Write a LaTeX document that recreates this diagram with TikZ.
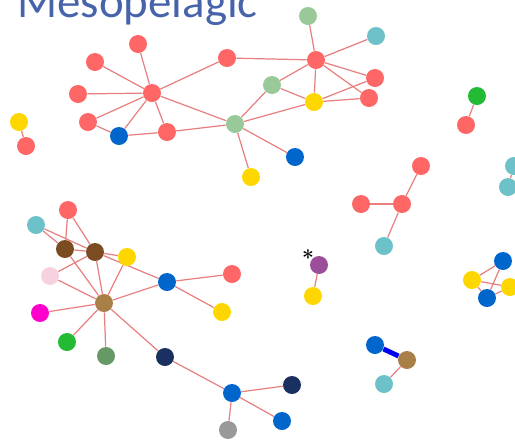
\documentclass[tikz,border=0pt]{standalone}
\usepackage{fontspec}
\newfontfamily\titlefont{Carlito}
\usetikzlibrary{backgrounds}

\definecolor{ntitle}{HTML}{4763AA}
\definecolor{nlink}{HTML}{E88080}
\definecolor{nred}{HTML}{FF6666}
\definecolor{nblue}{HTML}{0066CC}
\definecolor{nlgreen}{HTML}{99C999}
\definecolor{nyellow}{HTML}{FFD700}
\definecolor{nteal}{HTML}{6CC2C8}
\definecolor{nbgreen}{HTML}{22BB33}
\definecolor{npurple}{HTML}{9B4F9B}
\definecolor{nbrown}{HTML}{A97F48}
\definecolor{ndbrown}{HTML}{7B4B22}
\definecolor{npink}{HTML}{F6D2E0}
\definecolor{nmagenta}{HTML}{FF00CC}
\definecolor{ndgreen}{HTML}{669966}
\definecolor{nnavy}{HTML}{1A3060}
\definecolor{ngray}{HTML}{999999}
\definecolor{nthick}{HTML}{0000EE}

\begin{document}
\begin{tikzpicture}[
    x=0.02cm, y=-0.02cm,
    vtx/.style={circle, minimum size=0.36cm, inner sep=0pt},
    link/.style={draw=nlink, line width=0.7pt},
]
\useasboundingbox (0,0) rectangle (515,441);
\clip (0,0) rectangle (515,441);

% Title
\node[font=\titlefont\fontsize{26.7}{30}\selectfont, text=ntitle, anchor=base west, inner sep=0pt]
    (title) at (17,17) {Mesopelagic};

% Top cluster
\foreach \n/\x/\y/\c in {a1/138/44/nred, a2/95/62/nred, a3/78/94/nred, hubA/152/93/nred,
    a4/88/122/nred, a5/119/136/nblue, a6/167/132/nred, a7/227/58/nred,
    hubB/235/124/nlgreen, a8/251/177/nyellow, a9/295/157/nblue, a10/272/85/nlgreen,
    hubC/316/60/nred, a11/308/16/nlgreen, a12/376/36/nteal, a13/314/102/nyellow,
    a14/375/78/nred, a15/369/98/nred} {
    \node[vtx, fill=\c] (\n) at (\x,\y) {};
}

% Small groups
\foreach \n/\x/\y/\c in {b1/19/122/nyellow, b2/26/146/nred, c1/477/96/nbgreen, c2/466/125/nred,
    d1/514/166/nteal, d2/508/187/nteal, e1/421/166/nred, e2/402/204/nred,
    e3/361/204/nred, e4/384/246/nteal, f1/319/265/npurple, f2/313/296/nyellow,
    g1/503/261/nblue, g2/472/280/nyellow, g3/510/287/nyellow, g4/487/298/nblue,
    h1/375/345/nblue, h2/407/360/nbrown, h3/384/384/nteal} {
    \node[vtx, fill=\c] (\n) at (\x,\y) {};
}
\node[font=\large\bfseries, inner sep=0pt] (star) at (308,258) {*};

% Lower cluster
\foreach \n/\x/\y/\c in {k1/68/210/nred, k2/36/225/nteal, k3/65/249/ndbrown, k4/95/252/ndbrown,
    k5/127/257/nyellow, k6/50/276/npink, hubD/104/303/nbrown, k7/167/282/nblue,
    k8/232/274/nred, k9/222/312/nyellow, k10/40/313/nmagenta, k11/67/342/nbgreen,
    k12/106/356/ndgreen, k13/165/357/nnavy, k14/232/393/nblue, k15/292/385/nnavy,
    k16/282/421/nblue, k17/228/430/ngray} {
    \node[vtx, fill=\c] (\n) at (\x,\y) {};
}

% Links
\begin{scope}[on background layer]
\foreach \a/\b in {hubA/a1, hubA/a2, hubA/a3, hubA/a4, hubA/a5, hubA/a6, hubA/a7, hubA/hubB,
    a4/a5, a5/a6, a6/hubB, a7/hubC, hubB/a10, hubB/a13, hubB/a8, hubB/a9, a10/hubC, a10/a13,
    hubC/a11, hubC/a12, hubC/a13, hubC/a14, hubC/a15, a13/a14, a13/a15,
    b1/b2, c1/c2, d1/d2, e1/e2, e2/e3, e2/e4, f1/f2,
    g1/g2, g1/g4, g2/g3, g2/g4, g4/g3, h2/h3,
    k1/k3, k1/k4, k2/k3, k2/k4, k3/k4, k3/hubD, k4/hubD, k4/k5, k4/k6, k4/k7,
    k5/hubD, k6/hubD, k7/hubD, k10/hubD, k11/hubD, k12/hubD, k13/hubD,
    k7/k8, k7/k9, k13/k14, k14/k15, k14/k16, k14/k17} {
    \draw[link] (\a) -- (\b);
}
\draw[nthick, line width=2.8pt] (h1) -- (h2);
\end{scope}
\end{tikzpicture}
\end{document}
